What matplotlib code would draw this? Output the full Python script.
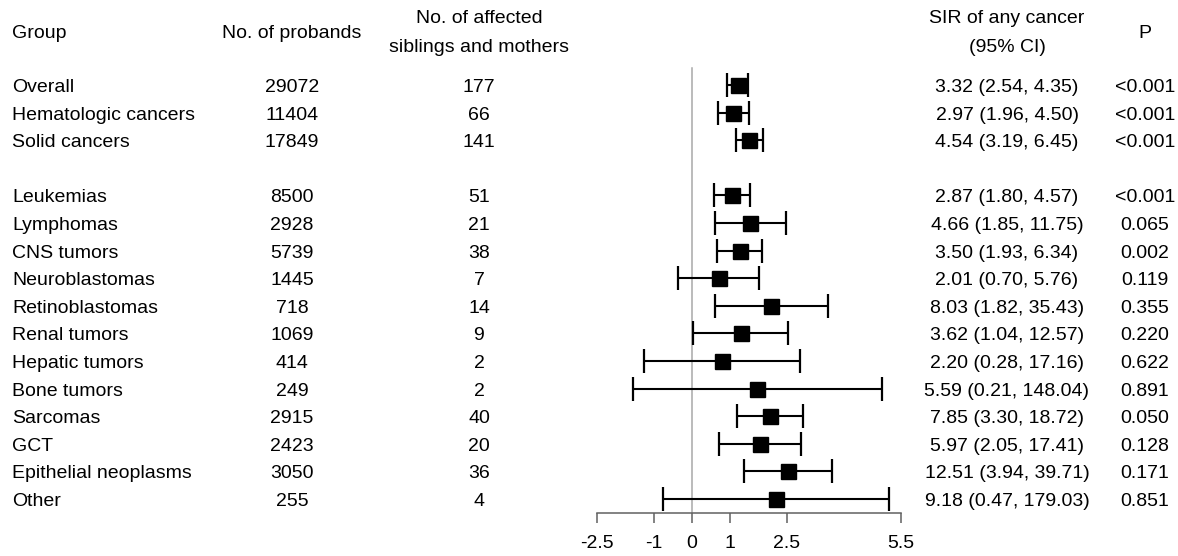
import numpy as np
import matplotlib
matplotlib.use('Agg')
import matplotlib.pyplot as plt
import matplotlib.transforms as mtransforms

plt.rcParams['font.family'] = ['Liberation Sans', 'DejaVu Sans']

# data
groups = ['Overall', 'Hematologic cancers', 'Solid cancers',
          'Leukemias', 'Lymphomas', 'CNS tumors', 'Neuroblastomas',
          'Retinoblastomas', 'Renal tumors', 'Hepatic tumors', 'Bone tumors',
          'Sarcomas', 'GCT', 'Epithelial neoplasms', 'Other']
n_probands = [29072, 11404, 17849, 8500, 2928, 5739, 1445, 718, 1069,
              414, 249, 2915, 2423, 3050, 255]
n_affected = [177, 66, 141, 51, 21, 38, 7, 14, 9, 2, 2, 40, 20, 36, 4]
sir = [3.32, 2.97, 4.54, 2.87, 4.66, 3.50, 2.01, 8.03, 3.62, 2.20, 5.59,
       7.85, 5.97, 12.51, 9.18]
ci_lo = [2.54, 1.96, 3.19, 1.80, 1.85, 1.93, 0.70, 1.82, 1.04, 0.28, 0.21,
         3.30, 2.05, 3.94, 0.47]
ci_hi = [4.35, 4.50, 6.45, 4.57, 11.75, 6.34, 5.76, 35.43, 12.57, 17.16,
         148.04, 18.72, 17.41, 39.71, 179.03]
p_vals = ['<0.001', '<0.001', '<0.001', '<0.001', '0.065', '0.002', '0.119',
          '0.355', '0.220', '0.622', '0.891', '0.050', '0.128', '0.171',
          '0.851']
tick_pos = [-2.5, -1, 0, 1, 2.5, 5.5]
tick_lab = ['-2.5', '-1', '0', '1', '2.5', '5.5']

W, H = 1178, 556
fig = plt.figure(figsize=(W / 100, H / 100), dpi=100)

# row layout in pixels: first row centre at 85, step 27.6, axis line at 513
row0, step, axis_y = 85, 27.6, 513
ax = fig.add_axes([578 / W, (H - axis_y) / H, 342 / W, axis_y / H])
ax.set_xlim(-3, 6)
ax.set_ylim((axis_y - row0) / step, -row0 / step)

# blank row after the three summary rows
ypos = np.array([i if i < 3 else i + 1 for i in range(len(groups))])

x = np.log(sir)
lo = np.log(ci_lo)
hi = np.log(ci_hi)

ax.plot([0, 0], [-0.6, ax.get_ylim()[0]], color='#a8a8a8', lw=1.1, zorder=1)
ax.errorbar(x, ypos, xerr=[x - lo, hi - x], fmt='s', color='black',
            ms=10.8, capsize=8.3, capthick=1.6, elinewidth=1.5, zorder=3)

for s in ['top', 'right', 'left']:
    ax.spines[s].set_visible(False)
ax.spines['bottom'].set_bounds(-2.5, 5.5)
ax.spines['bottom'].set_color('#606060')
ax.spines['bottom'].set_linewidth(1.1)
ax.set_yticks([])
ax.set_xticks(tick_pos)
ax.set_xticklabels(tick_lab)
ax.tick_params(axis='x', length=7, width=1.1, color='#606060', pad=9,
               labelsize=14)
ax.patch.set_visible(False)

# table text
fs = 14
tr = mtransforms.blended_transform_factory(fig.transFigure, ax.transData)
base_off = 7 / step
for i, g in enumerate(groups):
    yb = ypos[i] + base_off
    ax.text(12 / W, yb, g, transform=tr, ha='left', va='baseline', fontsize=fs, clip_on=False)
    ax.text(292 / W, yb, str(n_probands[i]), transform=tr, ha='center', va='baseline', fontsize=fs, clip_on=False)
    ax.text(479 / W, yb, str(n_affected[i]), transform=tr, ha='center', va='baseline', fontsize=fs, clip_on=False)
    ax.text(1007 / W, yb, f'{sir[i]:.2f} ({ci_lo[i]:.2f}, {ci_hi[i]:.2f})', transform=tr,
            ha='center', va='baseline', fontsize=fs, clip_on=False)
    ax.text(1145 / W, yb, p_vals[i], transform=tr, ha='center', va='baseline', fontsize=fs, clip_on=False)

# headers
def hdr(xp, yp, s, ha='center'):
    fig.text(xp / W, 1 - yp / H, s, ha=ha, va='baseline', fontsize=fs)

hdr(12, 38, 'Group', ha='left')
hdr(292, 38, 'No. of probands')
hdr(479, 23, 'No. of affected')
hdr(479, 52, 'siblings and mothers')
hdr(1007, 23, 'SIR of any cancer')
hdr(1007, 52, '(95% CI)')
hdr(1145, 38, 'P')

fig.savefig('out.png', dpi=100)
